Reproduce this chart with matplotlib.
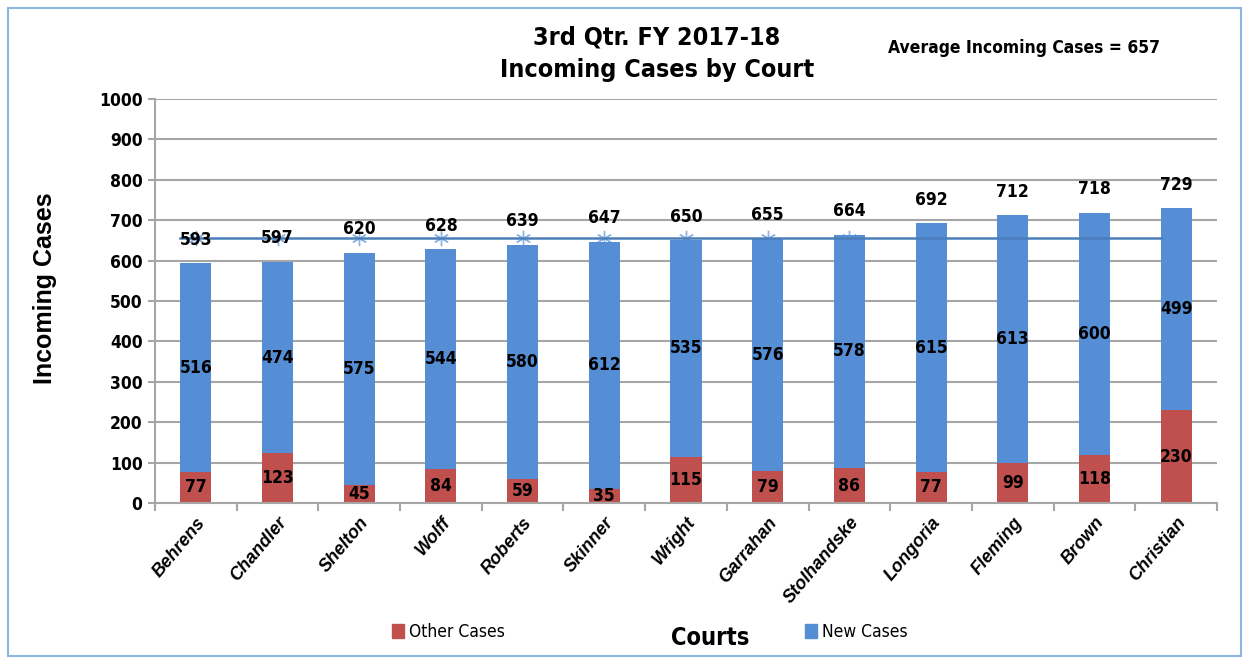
import matplotlib.pyplot as plt
import numpy as np
from matplotlib.patches import Rectangle


COURTS = ["Behrens", "Chandler", "Shelton", "Wolff", "Roberts", "Skinner", "Wright",
          "Garrahan", "Stolhandske", "Longoria", "Fleming", "Brown", "Christian"]
OTHER_CASES = [77, 123, 45, 84, 59, 35, 115, 79, 86, 77, 99, 118, 230]
NEW_CASES = [516, 474, 575, 544, 580, 612, 535, 576, 578, 615, 613, 600, 499]
AVERAGE = 657

RED = "#C0504D"
BLUE = "#558ED5"
LINE_BLUE = "#4A7EBB"
GRID = "#A6A6A6"
NARROW = {"family": "DejaVu Sans", "fontstretch": "condensed"}

W, H = 1249, 662
fig = plt.figure(figsize=(W / 100, H / 100), dpi=100)
ax = fig.add_axes([155 / W, 1 - 503 / H, (1217 - 155) / W, (503 - 99) / H])

x = np.arange(len(COURTS))
other = np.array(OTHER_CASES)
new = np.array(NEW_CASES)
total = other + new
width = 0.38

# average markers sit behind the bars, the line itself on top
ax.plot(x, [AVERAGE] * len(x), linestyle="none", marker=(6, 2, 0), markersize=11,
        markeredgecolor="#8DB3E2", markeredgewidth=1.0, zorder=1.5)
ax.bar(x, other, width, color=RED, zorder=2)
ax.bar(x, new, width, bottom=other, color=BLUE, zorder=2)
ax.plot([x[0] - width / 2, x[-1] - width / 2], [AVERAGE, AVERAGE], color=LINE_BLUE,
        linewidth=1.8, zorder=3)

for xi, o, n, t in zip(x, other, new, total):
    ax.text(xi, o / 2, str(o), ha="center", va="center", fontsize=12.5,
            fontweight="bold", zorder=4, **NARROW)
    ax.text(xi, o + n / 2, str(n), ha="center", va="center", fontsize=12.5,
            fontweight="bold", zorder=4, **NARROW)
    ax.annotate(str(t), (xi, t), xytext=(0, 17), textcoords="offset points",
                ha="center", va="center", fontsize=12.5, fontweight="bold",
                zorder=4, **NARROW)

ax.set_xlim(-0.5, len(COURTS) - 0.5)
ax.set_ylim(0, 1000)
ax.set_yticks(np.arange(0, 1001, 100))
ax.set_yticklabels([str(v) for v in range(0, 1001, 100)])
ax.grid(axis="y", color=GRID, linewidth=1.5, zorder=0)
ax.set_axisbelow(True)

ax.set_xticks(x)
ax.set_xticklabels(COURTS)
ax.tick_params(axis="x", length=0, pad=8)
ax.set_xticks(np.arange(-0.5, len(COURTS), 1), minor=True)
ax.tick_params(axis="x", which="minor", length=6, color=GRID, width=1.5)
ax.tick_params(axis="y", length=5, color=GRID, width=1.5, pad=4)

for lbl in ax.get_xticklabels():
    lbl.set_fontfamily(["Liberation Sans", "DejaVu Sans"])
    lbl.set_fontsize(13)
    lbl.set_fontweight("bold")
    lbl.set_fontstyle("italic")
    lbl.set_rotation(50)
    lbl.set_ha("right")
    lbl.set_rotation_mode("anchor")
for lbl in ax.get_yticklabels():
    lbl.set_fontfamily("DejaVu Sans")
    lbl.set_fontstretch("condensed")
    lbl.set_fontsize(12.5)
    lbl.set_fontweight("bold")

for side in ["top", "right"]:
    ax.spines[side].set_visible(False)
for side in ["left", "bottom"]:
    ax.spines[side].set_color(GRID)
    ax.spines[side].set_linewidth(1.5)

fig.text(657 / W, 1 - 37 / H, "3rd Qtr. FY 2017-18", ha="center", va="center",
         fontsize=18, fontweight="bold", **NARROW)
fig.text(657 / W, 1 - 70 / H, "Incoming Cases by Court", ha="center", va="center",
         fontsize=18, fontweight="bold", **NARROW)
fig.text(1024 / W, 1 - 48 / H, "Average Incoming Cases = 657", ha="center",
         va="center", fontsize=12.5, fontweight="bold", **NARROW)
fig.text(45 / W, 1 - 288 / H, "Incoming Cases", rotation=90, ha="center",
         va="center", fontsize=18, fontweight="bold",
         family=["Liberation Sans", "DejaVu Sans"])
fig.text(710 / W, 1 - 638 / H, "Courts", ha="center", va="center", fontsize=17,
         fontweight="bold", **NARROW)

for color, label, xpos in [(RED, "Other Cases", 392), (BLUE, "New Cases", 805)]:
    fig.legend([Rectangle((0, 0), 1, 1, color=color)], [label], loc="center left",
               bbox_to_anchor=(xpos / W, 1 - 632 / H), frameon=False,
               handlelength=0.7, handleheight=0.9, handletextpad=0.3,
               borderpad=0, borderaxespad=0,
               prop={"family": "DejaVu Sans", "stretch": "condensed", "size": 12.5})

fig.patches.append(Rectangle((8 / W, 1 - 656 / H), (1241 - 8) / W, (656 - 8) / H,
                             transform=fig.transFigure, fill=False,
                             edgecolor="#8EB4E3", linewidth=1.5))

plt.savefig("out.png", dpi=100)
plt.close()
